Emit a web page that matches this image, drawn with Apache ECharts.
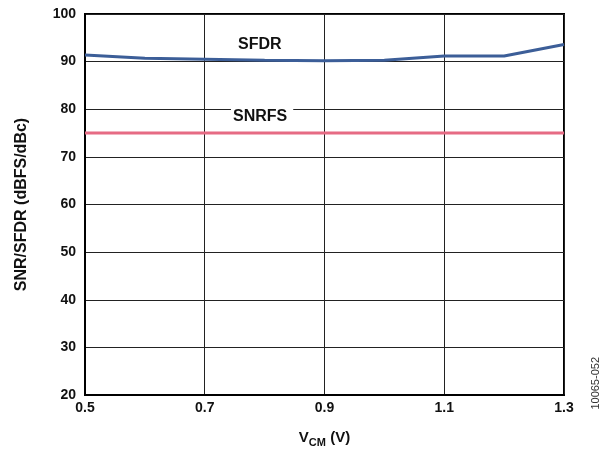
<!DOCTYPE html>
<html>
<head>
<meta charset="utf-8">
<script src="https://cdn.jsdelivr.net/npm/echarts@6/dist/echarts.min.js"></script>
<style>
  html, body { margin: 0; padding: 0; background: #fff; }
  #chart { width: 600px; height: 449px; }
</style>
</head>
<body>
<div id="chart"></div>
<script>
var VCM = [0.5, 0.6, 0.7, 0.8, 0.9, 1.0, 1.1, 1.2, 1.3];
var SFDR = [91.4, 90.7, 90.5, 90.3, 90.2, 90.3, 91.2, 91.2, 93.6];
var SNRFS = [75, 75, 75, 75, 75, 75, 75, 75, 75];

var FONT = '"Liberation Sans", Arial, sans-serif';

function pairs(xs, ys) {
  return xs.map(function (x, i) { return [x, ys[i]]; });
}

var chart = echarts.init(document.getElementById('chart'), null, { renderer: 'canvas' });

chart.setOption({
  animation: false,
  grid: {
    left: 85, right: 36, top: 14, bottom: 54, outerBoundsMode: 'none',
    show: true, borderColor: '#000', borderWidth: 2
  },
  xAxis: {
    type: 'value', min: 0.5, max: 1.3, interval: 0.2,
    axisLine: { lineStyle: { color: '#000', width: 2 } },
    axisTick: { show: false },
    splitLine: { lineStyle: { color: '#222', width: 1 } },
    axisLabel: {
      color: '#111', fontFamily: FONT, fontWeight: 'bold', fontSize: 14, margin: 6,
      formatter: function (v) { return v.toFixed(1); }
    },
    name: '{v|V}{sub|CM}{v| (V)}',
    nameLocation: 'middle', nameGap: 35,
    nameTextStyle: {
      rich: {
        v: { fontFamily: FONT, fontWeight: 'bold', fontSize: 15, color: '#111', verticalAlign: 'bottom' },
        sub: { fontFamily: FONT, fontWeight: 'bold', fontSize: 11, color: '#111', verticalAlign: 'bottom', padding: [0, 0, -3, 0] }
      }
    }
  },
  yAxis: {
    type: 'value', min: 20, max: 100, interval: 10,
    axisLine: { show: true, lineStyle: { color: '#000', width: 2 } },
    axisTick: { show: false },
    splitLine: { lineStyle: { color: '#222', width: 1 } },
    axisLabel: { color: '#111', fontFamily: FONT, fontWeight: 'bold', fontSize: 14, margin: 9 },
    name: 'SNR/SFDR (dBFS/dBc)',
    nameLocation: 'middle', nameRotate: 90, nameGap: 55,
    nameTextStyle: { fontFamily: FONT, fontWeight: 'bold', fontSize: 16, color: '#111' }
  },
  series: [
    {
      name: 'SFDR', type: 'line', data: pairs(VCM, SFDR), symbol: 'none',
      lineStyle: { color: '#3c5e98', width: 3 }, z: 3
    },
    {
      name: 'SNRFS', type: 'line', data: pairs(VCM, SNRFS), symbol: 'none',
      lineStyle: { color: '#e66b84', width: 3 }, z: 3
    }
  ],
  graphic: [
    {
      type: 'text', left: 238, top: 37, z: 10,
      style: { text: 'SFDR', font: 'bold 16px ' + FONT, fill: '#111' }
    },
    {
      type: 'text', left: 231, top: 107, z: 10,
      style: { text: 'SNRFS', font: 'bold 16px ' + FONT, fill: '#111', backgroundColor: '#fff', padding: [2, 6, 1, 2] }
    },
    {
      type: 'text', left: 590, top: 357, rotation: Math.PI / 2, z: 10,
      style: { text: '10065-052', font: '11px ' + FONT, fill: '#333' }
    }
  ]
});
</script>
</body>
</html>
